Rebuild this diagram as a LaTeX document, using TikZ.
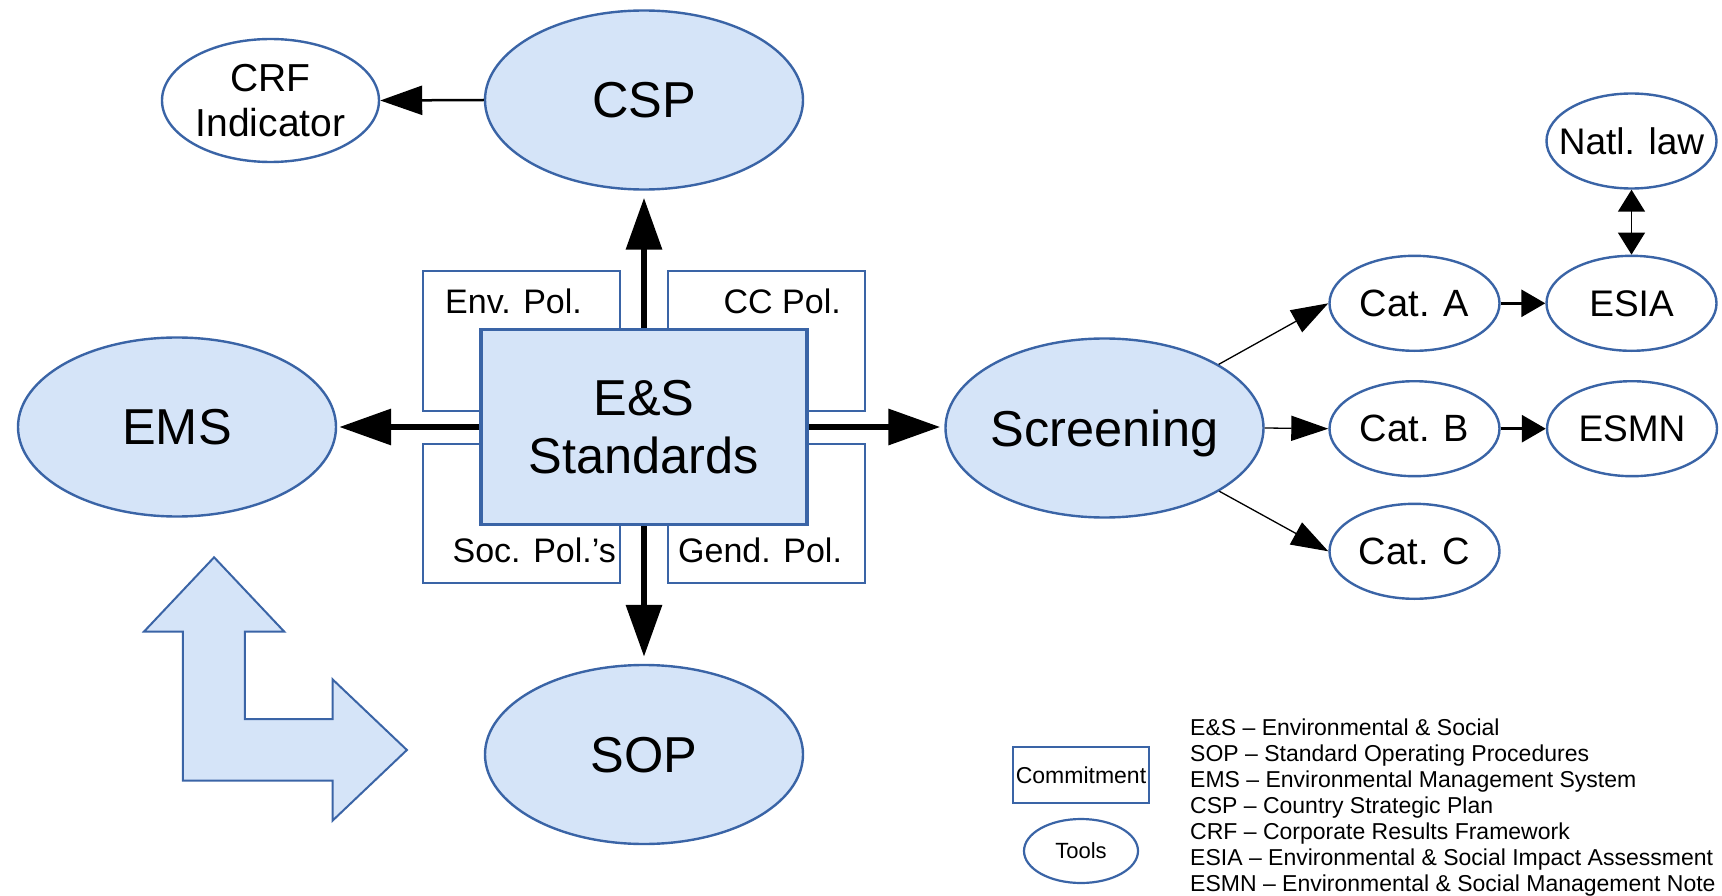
\documentclass[tikz,border=0pt]{standalone}
\usepackage{fontspec}
\setmainfont{Liberation Sans}
\usetikzlibrary{arrows.meta,shapes.geometric}
\definecolor{lb}{RGB}{213,228,248}
\definecolor{bd}{RGB}{58,100,166}
\newcommand{\zb}[1]{\makebox[0pt][c]{#1}}
\begin{document}
\begin{tikzpicture}[x=1pt,y=-1pt,
  ell/.style={ellipse, draw=bd, line width=2.4pt, inner sep=0pt, text depth=0pt},
  bigell/.style={ell, fill=lb, minimum width=318pt, minimum height=179pt, font=\fontsize{50.5}{58}\selectfont},
  smell/.style={ell, fill=white, minimum width=170pt, minimum height=95pt, font=\fontsize{38}{44}\selectfont},
  polbox/.style={rectangle, draw=bd, line width=2pt, fill=white, minimum width=197pt, minimum height=139pt, inner sep=0pt},
  poltxt/.style={inner sep=0pt, font=\fontsize{34}{40}\selectfont},
  legtxt/.style={inner sep=0pt, anchor=base west, font=\fontsize{23}{26}\selectfont},
  bigarr/.style={line width=6.5pt, -{Triangle[length=52pt,width=35pt]}},
  thinarr/.style={line width=1.3pt, -{Triangle[length=37pt,width=25pt]}},
  medarr/.style={line width=3pt, -{Triangle[length=24pt,width=27pt]}},
]
\useasboundingbox (0,0) rectangle (1722,896);

% policy boxes
\node[polbox] (env) at (521,341) {};
\node[polbox] (cc) at (766.5,341) {};
\node[polbox] (soc) at (521,513) {};
\node[polbox] (gend) at (766.5,513) {};
\node[poltxt, anchor=base west] (envt) at (445,313) {Env. Pol.};
\node[poltxt, anchor=base east] (cct) at (841,313) {CC Pol.};
\node[poltxt, anchor=base east] (soct) at (616,562) {Soc. Pol.’s};
\node[poltxt, anchor=base west] (gendt) at (678,562) {Gend. Pol.};

% central box
\node[rectangle, draw=bd, line width=3.5pt, fill=lb, minimum width=326pt, minimum height=195pt,
      inner sep=0pt, text depth=0pt, align=center, font=\fontsize{50.5}{57.7}\selectfont] (es) at (644,427) {E\&S\\Standards};

% big ellipses
\node[bigell] (csp) at (644,100) {\zb{CSP}};
\node[bigell] (ems) at (177,427) {\zb{EMS}};
\node[bigell] (scr) at (1104.5,428) {\zb{Screening}};
\node[bigell] (sop) at (644,754.5) {\zb{SOP}};

% small ellipses
\node[ell, fill=white, minimum width=217pt, minimum height=123pt, align=center,
      font=\fontsize{39}{45}\selectfont] (crf) at (270.5,100.5) {\zb{CRF}\\\zb{Indicator}};
\node[smell] (cata) at (1414.5,303.3) {\zb{Cat. A}};
\node[smell] (catb) at (1414.5,428.7) {\zb{Cat. B}};
\node[smell] (catc) at (1414.5,551.3) {\zb{Cat. C}};
\node[smell, font=\fontsize{37}{44}\selectfont] (esia) at (1631.5,303.3) {\zb{ESIA}};
\node[smell, font=\fontsize{37}{44}\selectfont] (esmn) at (1632,428.7) {\zb{ESMN}};
\node[smell, font=\fontsize{37}{44}\selectfont] (natl) at (1631.5,141) {\zb{Natl. law}};

% connectors
\draw[line width=2.5pt, -{Triangle[length=42pt,width=29pt]}] (csp.west) -- (crf.east);
\draw[bigarr, shorten >=7pt] (es.north) -- (csp.south);
\draw[bigarr, shorten >=7pt] (es.south) -- (sop.north);
\draw[bigarr, shorten >=2pt] (es.west) -- (ems.east);
\draw[bigarr, shorten >=4pt] (es.east) -- (es.east -| scr.west);
\draw[thinarr] (scr) -- (cata.west);
\draw[thinarr] (scr.east) -- (catb.west);
\draw[thinarr] (scr) -- (catc.west);
\draw[medarr] (cata.east) -- (esia.west);
\draw[medarr] (catb.east) -- (esmn.west);
\draw[line width=1.5pt, {Triangle[length=22pt,width=27pt]}-{Triangle[length=22pt,width=27pt]}] (natl.south) -- (esia.north);

% bent double arrow
\draw[draw=bd, fill=lb, line width=2pt, line join=miter]
  (214.1,557.3) -- (284.3,631.7) -- (244.8,631.7) -- (244.8,719) -- (332.5,719) -- (332.5,679.3)
  -- (406.9,750) -- (332.5,820.7) -- (332.5,780.7) -- (182.9,780.7) -- (182.9,631.7) -- (143.9,631.7) -- cycle;

% legend
\node[rectangle, draw=bd, line width=2.5pt, minimum width=136pt, minimum height=56pt, inner sep=0pt,
      font=\fontsize{23}{26}\selectfont] (commit) at (1081,775) {Commitment};
\node[ell, line width=2.2pt, minimum width=114pt, minimum height=64pt, font=\fontsize{22}{26}\selectfont] (tools) at (1081,851) {Tools};
\node[legtxt] (l1) at (1190,735) {E\&S – Environmental \& Social};
\node[legtxt] (l2) at (1190,761) {SOP – Standard Operating Procedures};
\node[legtxt] (l3) at (1190,787) {EMS – Environmental Management System};
\node[legtxt] (l4) at (1190,813) {CSP – Country Strategic Plan};
\node[legtxt] (l5) at (1190,839) {CRF – Corporate Results Framework};
\node[legtxt] (l6) at (1190,865) {ESIA – Environmental \& Social Impact Assessment};
\node[legtxt] (l7) at (1190,891) {ESMN – Environmental \& Social Management Note};
\end{tikzpicture}
\end{document}
